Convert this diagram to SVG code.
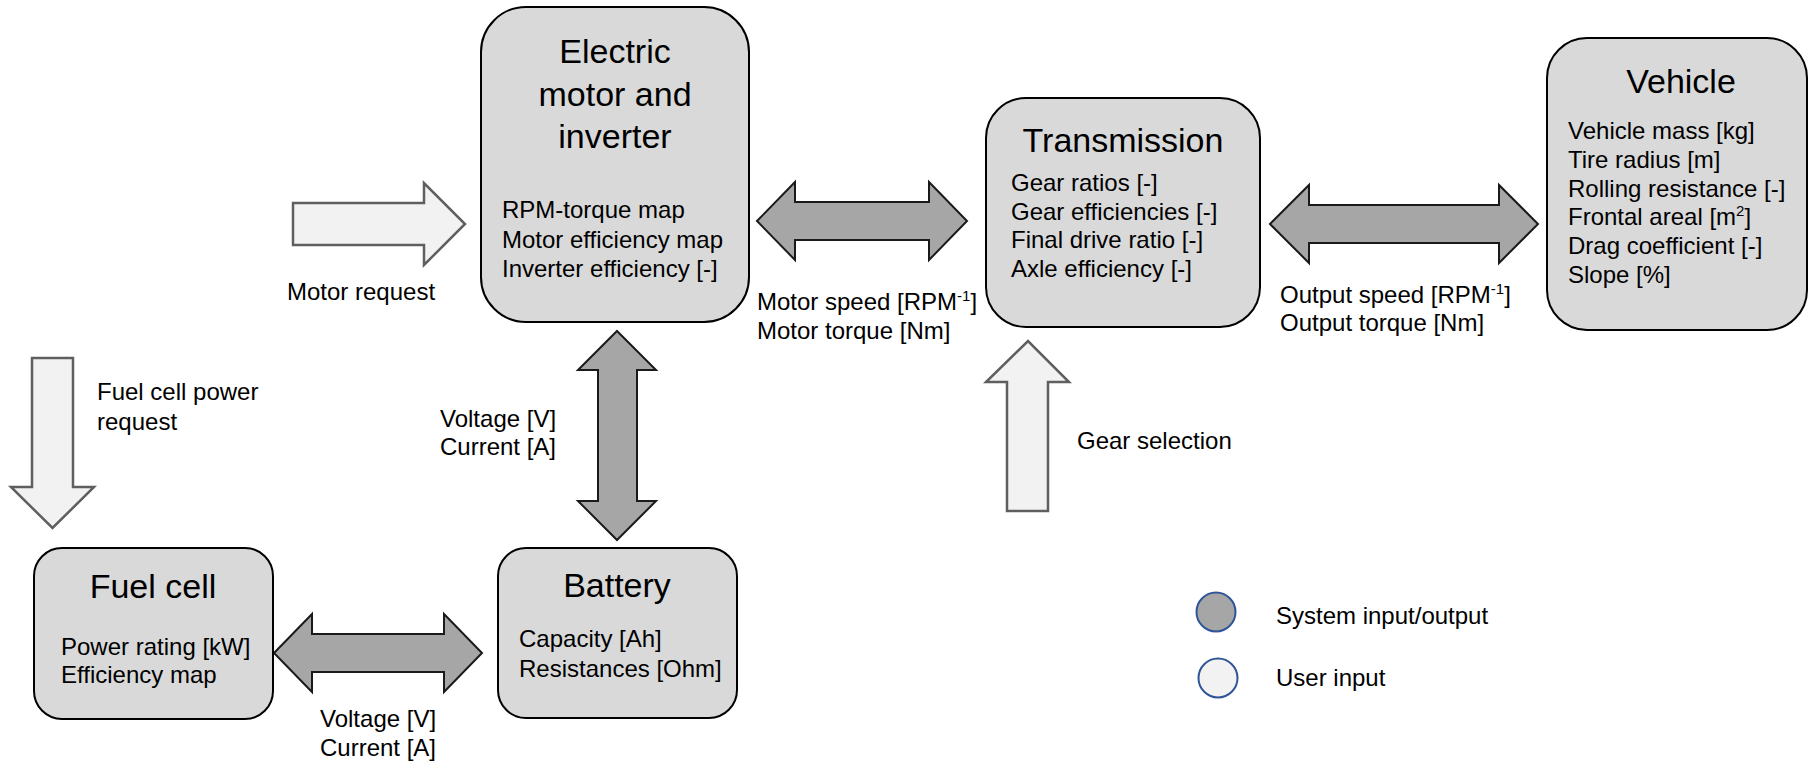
<svg xmlns="http://www.w3.org/2000/svg" width="1809" height="765" viewBox="0 0 1809 765">
<style>
text{font-family:"Liberation Sans",Arial,sans-serif;fill:#000}
.title{font-size:34px;text-anchor:middle}
.body{font-size:24px}
.lbl{font-size:24px}
.box{fill:#D9D9D9;stroke:#000;stroke-width:2}
.sys{fill:#A6A6A6;stroke:#1a1a1a;stroke-width:2;stroke-linejoin:miter}
.usr{fill:#F2F2F2;stroke:#5f5f5f;stroke-width:2.5;stroke-linejoin:miter}
.sup{font-size:15px}
</style>
<rect width="1809" height="765" fill="#fff"/>
<g id="connectors">
<path class="sys" d="M757,221 L795,182 L795,202 L929,202 L929,182 L967,221 L929,260 L929,240 L795,240 L795,260 Z"/>
<path class="sys" d="M1270,224 L1309,185 L1309,205 L1499,205 L1499,185 L1538,224 L1499,263 L1499,243 L1309,243 L1309,263 Z"/>
<path class="sys" d="M274,653 L312,614 L312,634 L444,634 L444,614 L482,653 L444,692 L444,672 L312,672 L312,692 Z"/>
<path class="sys" d="M617,331 L656,370 L637,370 L637,501 L656,501 L617,540 L578,501 L598,501 L598,370 L578,370 Z"/>
<path class="usr" d="M293,203 L424,203 L424,183 L465,224 L424,265 L424,245 L293,245 Z"/>
<path class="usr" d="M32,358 L73,358 L73,487 L94,487 L52.5,528 L11,487 L32,487 Z"/>
<path class="usr" d="M1007,511 L1007,382 L986,382 L1028,341 L1069,382 L1048,382 L1048,511 Z"/>
<text class="lbl" x="287" y="300">Motor request</text>
<text class="lbl" x="97" y="400">Fuel cell power</text>
<text class="lbl" x="97" y="430">request</text>
<text class="lbl" x="440" y="427">Voltage [V]</text>
<text class="lbl" x="440" y="455">Current [A]</text>
<text class="lbl" x="757" y="310">Motor speed [RPM<tspan class="sup" dy="-9">-1</tspan><tspan dy="9">]</tspan></text>
<text class="lbl" x="757" y="339">Motor torque [Nm]</text>
<text class="lbl" x="1280" y="303">Output speed [RPM<tspan class="sup" dy="-9">-1</tspan><tspan dy="9">]</tspan></text>
<text class="lbl" x="1280" y="331">Output torque [Nm]</text>
<text class="lbl" x="1077" y="449">Gear selection</text>
<text class="lbl" x="320" y="727">Voltage [V]</text>
<text class="lbl" x="320" y="756">Current [A]</text>
</g>
<g id="motor">
<rect class="box" x="481" y="7" width="268" height="315" rx="45"/>
<text class="title" x="615" y="63">Electric</text>
<text class="title" x="615" y="106">motor and</text>
<text class="title" x="615" y="148">inverter</text>
<text class="body" x="502" y="218">RPM-torque map</text>
<text class="body" x="502" y="248">Motor efficiency map</text>
<text class="body" x="502" y="277">Inverter efficiency [-]</text>
</g>
<g id="transmission">
<rect class="box" x="986" y="98" width="274" height="229" rx="40"/>
<text class="title" x="1123" y="152">Transmission</text>
<text class="body" x="1011" y="191">Gear ratios [-]</text>
<text class="body" x="1011" y="219.5">Gear efficiencies [-]</text>
<text class="body" x="1011" y="248">Final drive ratio [-]</text>
<text class="body" x="1011" y="276.5">Axle efficiency [-]</text>
</g>
<g id="vehicle">
<rect class="box" x="1547" y="38" width="260" height="292" rx="40"/>
<text class="title" x="1681" y="93">Vehicle</text>
<text class="body" x="1568" y="139">Vehicle mass [kg]</text>
<text class="body" x="1568" y="168">Tire radius [m]</text>
<text class="body" x="1568" y="197">Rolling resistance [-]</text>
<text class="body" x="1568" y="225">Frontal areal [m<tspan class="sup" dy="-9">2</tspan><tspan dy="9">]</tspan></text>
<text class="body" x="1568" y="254">Drag coefficient [-]</text>
<text class="body" x="1568" y="283">Slope [%]</text>
</g>
<g id="fuelcell">
<rect class="box" x="34" y="548" width="239" height="171" rx="28"/>
<text class="title" x="153" y="598">Fuel cell</text>
<text class="body" x="61" y="655">Power rating [kW]</text>
<text class="body" x="61" y="683">Efficiency map</text>
</g>
<g id="battery">
<rect class="box" x="498" y="548" width="239" height="170" rx="28"/>
<text class="title" x="617" y="597">Battery</text>
<text class="body" x="519" y="647">Capacity [Ah]</text>
<text class="body" x="519" y="677">Resistances [Ohm]</text>
</g>
<g id="legend">
<circle cx="1216" cy="612" r="19.5" fill="#A6A6A6" stroke="#2F5597" stroke-width="2"/>
<circle cx="1218" cy="678" r="19.5" fill="#F2F2F2" stroke="#2F5597" stroke-width="2"/>
<text class="lbl" x="1276" y="624">System input/output</text>
<text class="lbl" x="1276" y="686">User input</text>
</g>
</svg>
